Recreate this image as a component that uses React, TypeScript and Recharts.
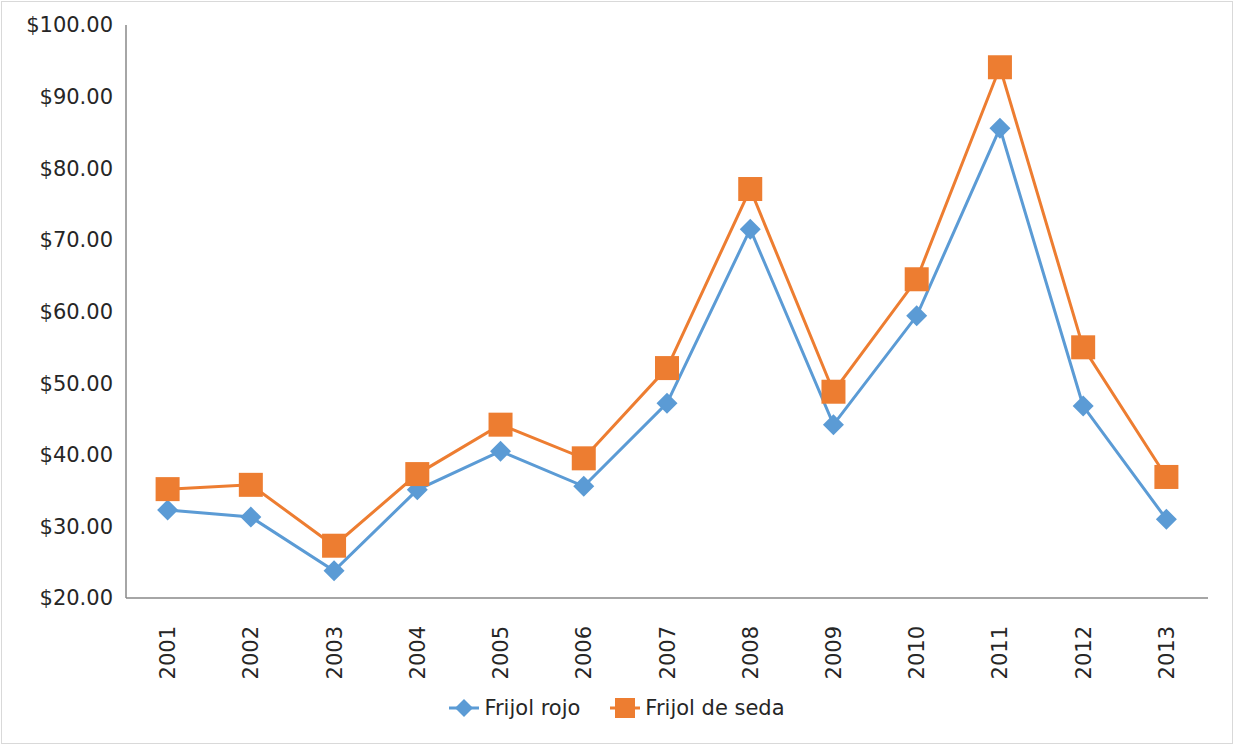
import { LineChart, Line, XAxis, YAxis, Legend } from 'recharts';

const years = ['2001', '2002', '2003', '2004', '2005', '2006', '2007', '2008', '2009', '2010', '2011', '2012', '2013'];
const frijolRojo = [32.3, 31.3, 23.8, 35.1, 40.5, 35.6, 47.2, 71.5, 44.2, 59.4, 85.6, 46.8, 31.0];
const frijolSeda = [35.2, 35.8, 27.3, 37.3, 44.2, 39.5, 52.1, 77.1, 48.8, 64.5, 94.1, 55.0, 36.9];
const yTicks = [20, 30, 40, 50, 60, 70, 80, 90, 100];

const BLUE = '#5B9BD5';
const ORANGE = '#ED7D31';
const FONT = '"DejaVu Sans", Verdana, sans-serif';

const data = years.map((y, i) => ({ year: y, rojo: frijolRojo[i], seda: frijolSeda[i] }));

const Diamond = (props: any) => {
  const { cx, cy } = props;
  if (cx == null || cy == null) return null;
  const r = 10.5;
  return <path d={`M${cx},${cy - r}L${cx + r},${cy}L${cx},${cy + r}L${cx - r},${cy}Z`} fill={BLUE} />;
};

const Square = (props: any) => {
  const { cx, cy } = props;
  if (cx == null || cy == null) return null;
  const s = 12;
  return <rect x={cx - s} y={cy - s} width={s * 2} height={s * 2} fill={ORANGE} />;
};

const YearTick = (props: any) => {
  const { x, y, payload } = props;
  return (
    <text
      transform={`translate(${x},${y + 20}) rotate(-90)`}
      textAnchor="end"
      dy="0.36em"
      fill="#262626"
      fontSize={21}
      fontFamily={FONT}
    >
      {payload.value}
    </text>
  );
};

const LegendContent = () => (
  <div style={{ display: 'flex', justifyContent: 'center', alignItems: 'center', height: 32, fontFamily: FONT, fontSize: 21, color: '#262626' }}>
    <svg width={30} height={22} style={{ marginRight: 5 }}>
      <line x1={0} y1={11} x2={30} y2={11} stroke={BLUE} strokeWidth={3} />
      <path d="M15,2L24,11L15,20L6,11Z" fill={BLUE} />
    </svg>
    <span style={{ marginRight: 30 }}>Frijol rojo</span>
    <svg width={30} height={22} style={{ marginRight: 5 }}>
      <line x1={0} y1={11} x2={30} y2={11} stroke={ORANGE} strokeWidth={3} />
      <rect x={5} y={1} width={20} height={20} fill={ORANGE} />
    </svg>
    <span>Frijol de seda</span>
  </div>
);

export default function App() {
  return (
    <div style={{ position: 'absolute', left: 0, top: 0, width: 1233, height: 744, background: '#fff' }}>
      <div style={{ position: 'absolute', left: 1, top: 1, width: 1230, height: 741, border: '1px solid #d9d9d9' }} />
      <LineChart width={1233} height={744} data={data} margin={{ top: 25, right: 25, left: 26, bottom: 20 }}>
        <XAxis
          dataKey="year"
          tick={<YearTick />}
          tickLine={false}
          axisLine={{ stroke: '#898989', strokeWidth: 1.5 }}
          height={94}
          interval={0}
          padding={{ left: 41.6, right: 41.6 }}
        />
        <YAxis
          domain={[20, 100]}
          ticks={yTicks}
          tickFormatter={(v: number) => `$${v.toFixed(2)}`}
          tick={{ fill: '#262626', fontSize: 21, fontFamily: FONT }}
          tickLine={false}
          tickMargin={7}
          axisLine={{ stroke: '#898989', strokeWidth: 1.5 }}
          width={100}
        />
        <Legend verticalAlign="bottom" content={<LegendContent />} wrapperStyle={{ height: 32 }} />
        <Line dataKey="rojo" name="Frijol rojo" stroke={BLUE} strokeWidth={3} dot={<Diamond />} activeDot={false} isAnimationActive={false} />
        <Line dataKey="seda" name="Frijol de seda" stroke={ORANGE} strokeWidth={3} dot={<Square />} activeDot={false} isAnimationActive={false} />
      </LineChart>
    </div>
  );
}
